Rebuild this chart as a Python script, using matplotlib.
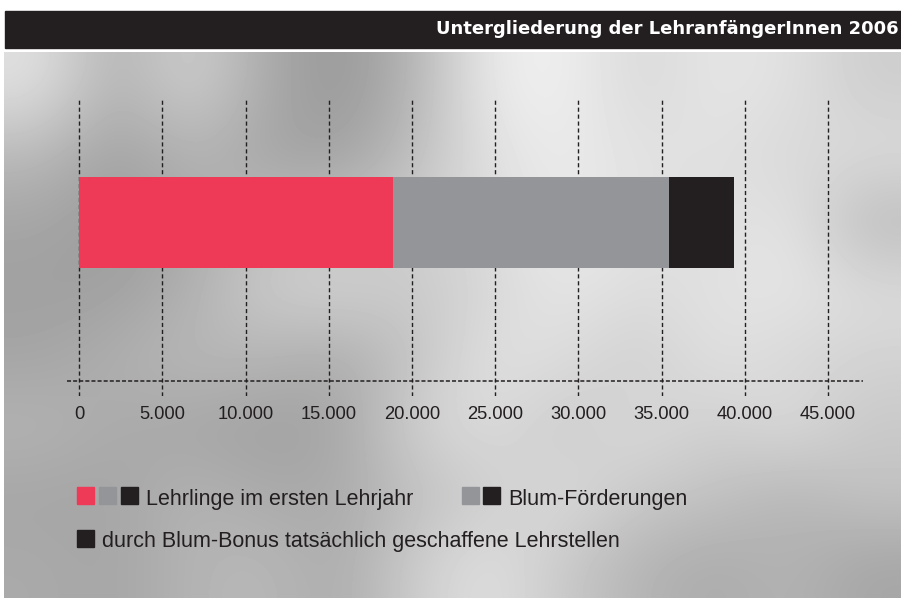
import matplotlib
matplotlib.use("Agg")
import matplotlib.pyplot as plt
from matplotlib.patches import Rectangle
import numpy as np

# Werte (nach Augenmaß aus der Vorlage gelesen)
kategorien = ["Lehrlinge im ersten Lehrjahr", "Blum-Förderungen",
              "durch Blum-Bonus tatsächlich geschaffene Lehrstellen"]
anzahl = [39350, 20500, 3900]   # ineinander enthalten
ticks = [0, 5000, 10000, 15000, 20000, 25000, 30000, 35000, 40000, 45000]
tick_labels = ["0", "5.000", "10.000", "15.000", "20.000", "25.000",
               "30.000", "35.000", "40.000", "45.000"]
titel = "Untergliederung der LehranfängerInnen 2006"

rot = "#ee3a57"
grau = "#939598"
schwarz = "#231f20"

# grob abgeschätzter, unscharfer Foto-Hintergrund (Graustufen)
hintergrund = [
    [225, 175, 210, 170, 150, 180, 235, 240, 215, 230, 225, 205],
    [185, 160, 180, 165, 160, 190, 225, 235, 225, 225, 215, 220],
    [165, 155, 170, 190, 195, 205, 220, 235, 225, 220, 230, 185],
    [160, 160, 175, 205, 210, 200, 215, 230, 220, 225, 230, 220],
    [165, 175, 185, 180, 170, 195, 225, 220, 205, 225, 215, 210],
    [180, 170, 165, 160, 165, 210, 220, 200, 220, 205, 220, 200],
    [165, 165, 180, 170, 170, 190, 205, 220, 200, 195, 180, 195],
    [170, 165, 180, 185, 170, 205, 225, 200, 180, 170, 180, 165],
]

W, H = 901, 598
plt.rcParams['font.family'] = ['Liberation Sans', 'DejaVu Sans']
plt.rcParams['lines.scale_dashes'] = False

fig = plt.figure(figsize=(W / 100, H / 100), dpi=100)
fig.patch.set_facecolor("white")

def fx(px):
    return px / W

def fy(py):
    return 1 - py / H

# Foto-Hintergrund
bg = fig.add_axes([fx(4), 0, fx(W - 4), (H - 52) / H])
bg.imshow(np.array(hintergrund), cmap="gray", vmin=0, vmax=255,
          interpolation="bicubic", aspect="auto")
bg.axis("off")

# Titelbalken
fig.patches.append(Rectangle((fx(5), fy(48)), fx(W - 5), 37 / H,
                             transform=fig.transFigure, color=schwarz, zorder=1))
fig.text(fx(899), fy(34.3), titel, color="white", fontsize=13,
         family="DejaVu Sans", fontweight="bold", ha="right", va="baseline", zorder=2)

# Diagramm
ax = fig.add_axes([fx(67), fy(396), fx(863 - 67), 296 / H])
ax.patch.set_alpha(0)
ax.set_xlim(-739, 47102)
ax.set_ylim(-1.152, 0.811)

segmente = [anzahl[0] - anzahl[1], anzahl[1] - anzahl[2], anzahl[2]]
farben = [rot, grau, schwarz]
links = 0
for wert, farbe in zip(segmente, farben):
    ax.barh(0, wert, left=links, height=0.6, color=farbe, zorder=3)
    links += wert

for t in ticks:
    ax.axvline(t, color=schwarz, lw=1, ls=(0, (3, 2)), zorder=1)
ax.axhline(-1.05, color=schwarz, lw=1.1, ls=(0, (2.9, 1.5)), zorder=2)

ax.set_xticks(ticks)
ax.set_xticklabels(tick_labels)
ax.tick_params(axis="x", length=0, pad=7.5, labelsize=13.2, labelcolor=schwarz)
ax.set_yticks([])
for s in ax.spines.values():
    s.set_visible(False)

# Legende
def kaestchen(x, y_unten, farbe):
    fig.patches.append(Rectangle((fx(x), fy(y_unten)), fx(17), 17 / H,
                                 transform=fig.transFigure, color=farbe, zorder=3))

kaestchen(76.5, 504, rot)
kaestchen(99, 504, grau)
kaestchen(121, 504, schwarz)
fig.text(fx(146.5), fy(505), kategorien[0], fontsize=15.5, color=schwarz, va="baseline")

kaestchen(461.5, 504, grau)
kaestchen(483, 504, schwarz)
fig.text(fx(508.5), fy(505), kategorien[1], fontsize=15.5, color=schwarz, va="baseline")

kaestchen(76.5, 547, schwarz)
fig.text(fx(102), fy(547), kategorien[2], fontsize=15.5, color=schwarz, va="baseline")

fig.savefig("out.png", dpi=100)
